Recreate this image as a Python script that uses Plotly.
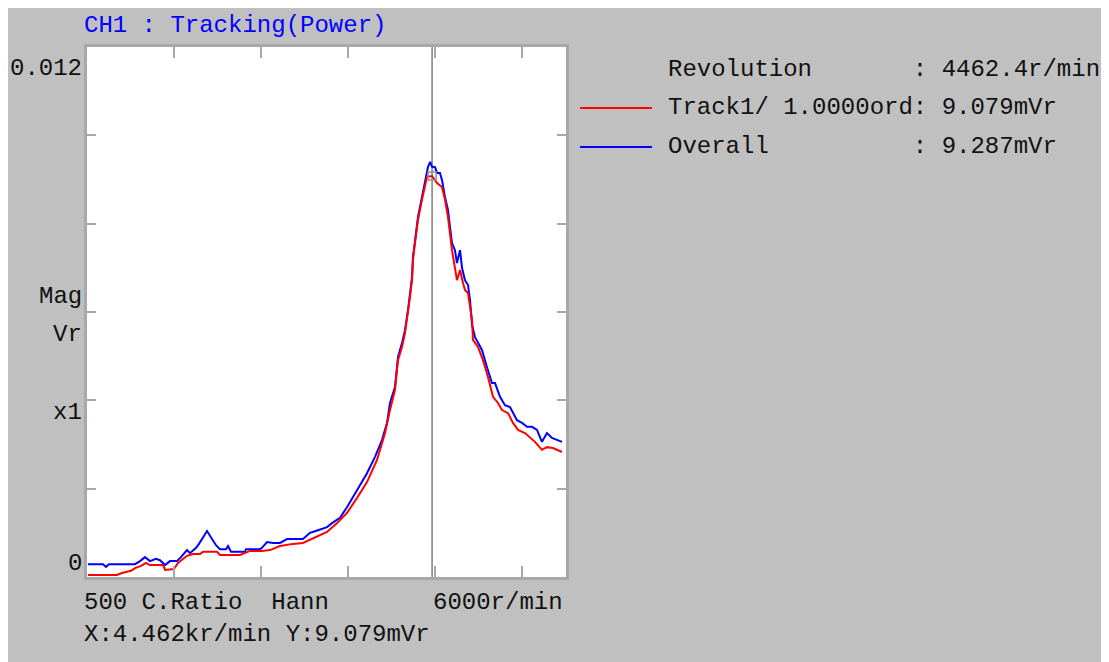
import plotly.graph_objects as go

# ---------------- data ----------------
overall_rpm = [511, 684, 718, 753, 1051, 1109, 1166, 1223, 1292, 1338, 1396, 1453, 1533, 1579,
               1648, 1683, 1752, 1786, 1878, 1981, 2027, 2096, 2119, 2153, 2314, 2326, 2486,
               2509, 2567, 2636, 2716, 2796, 2980, 3060, 3152, 3256, 3313, 3405, 3485, 3600,
               3715, 3807, 3887, 3945, 3979, 4036, 4071, 4117, 4151, 4186, 4209, 4232, 4243,
               4266, 4300, 4346, 4381, 4415, 4440, 4462, 4496, 4519, 4553, 4576, 4611, 4645,
               4668, 4691, 4725, 4748, 4783, 4806, 4840, 4875, 4898, 4921, 4955, 4989, 5035,
               5093, 5150, 5185, 5242, 5299, 5357, 5437, 5495, 5552, 5610, 5667, 5724, 5782,
               5839, 5954]
overall_mv = [0.29, 0.29, 0.23, 0.29, 0.29, 0.36, 0.45, 0.36, 0.41, 0.38, 0.27, 0.36, 0.36, 0.45,
              0.61, 0.54, 0.66, 0.75, 1.04, 0.72, 0.63, 0.63, 0.70, 0.57, 0.57, 0.63, 0.63,
              0.66, 0.79, 0.77, 0.77, 0.86, 0.86, 1.00, 1.06, 1.13, 1.22, 1.34, 1.58, 1.97,
              2.35, 2.72, 3.10, 3.49, 3.94, 4.30, 4.98, 5.30, 5.59, 6.05, 6.43, 6.79, 7.25,
              7.63, 8.15, 8.60, 8.99, 9.28, 9.40, 9.287, 9.28, 9.15, 9.15, 8.99, 8.60, 8.31,
              7.92, 7.56, 7.40, 7.11, 7.40, 7.00, 6.72, 6.61, 6.27, 5.71, 5.43, 5.30, 5.14,
              4.75, 4.39, 4.39, 4.08, 3.89, 3.85, 3.55, 3.49, 3.40, 3.40, 3.33, 3.06, 3.26,
              3.15, 3.06]

track1_rpm = [511, 844, 902, 1005, 1051, 1120, 1177, 1223, 1373, 1396, 1499, 1545, 1648, 1717,
              1797, 1832, 1993, 2027, 2257, 2303, 2372, 2509, 2601, 2716, 2865, 2980, 3095,
              3256, 3371, 3485, 3600, 3715, 3830, 3922, 3979, 4036, 4071, 4117, 4151, 4186,
              4209, 4232, 4243, 4266, 4300, 4346, 4381, 4404, 4462, 4519, 4576, 4611, 4645,
              4691, 4748, 4783, 4817, 4840, 4875, 4921, 4932, 4989, 5047, 5104, 5162, 5219,
              5265, 5334, 5391, 5449, 5529, 5587, 5644, 5724, 5782, 5850, 5954]
track1_mv = [0.045, 0.045, 0.09, 0.14, 0.20, 0.25, 0.32, 0.27, 0.27, 0.16, 0.18, 0.32, 0.48, 0.52,
             0.52, 0.57, 0.57, 0.50, 0.50, 0.54, 0.59, 0.59, 0.61, 0.70, 0.75, 0.77, 0.88,
             1.02, 1.22, 1.45, 1.79, 2.15, 2.65, 3.26, 3.78, 4.23, 4.91, 5.21, 5.52, 5.98,
             6.34, 6.72, 7.18, 7.56, 8.08, 8.54, 8.88, 9.06, 9.079, 8.92, 8.83, 8.54, 8.15,
             7.40, 6.72, 6.95, 6.66, 6.50, 6.43, 5.82, 5.37, 5.21, 4.91, 4.53, 4.08, 3.94,
             3.78, 3.71, 3.49, 3.33, 3.26, 3.17, 3.06, 2.88, 2.94, 2.92, 2.83]

cursor_rpm = 4462.4
cursor_track_mv = 9.079
x_range = [500, 6000]
y_range = [0, 0.012]
x_ticks = [1500, 2500, 3500, 4500, 5500]
y_ticks = [0, 0.002, 0.004, 0.006, 0.008, 0.010, 0.012]

title_text = "CH1 : Tracking(Power)"
info_lines = ["Revolution       : 4462.4r/min",
              "Track1/ 1.0000ord: 9.079mVr",
              "Overall          : 9.287mVr"]
bottom_left = "500 C.Ratio  Hann"
bottom_right = "6000r/min"
readout = "X:4.462kr/min Y:9.079mVr"

# ---------------- layout geometry ----------------
W, H = 1109, 662
OFF = 8  # page margin of the browser; positions below are measured on the screenshot
L, R, T, B = 87 - OFF, 566 - OFF, 47 - OFF, 577 - OFF
PW, PH = R - L, B - T


def px(x):
    return (x - OFF - L) / PW


def py(y):
    return (B - (y - OFF)) / PH


FONT = "Liberation Mono, DejaVu Sans Mono, monospace"
TXT = "#111111"
GRID = "#a8a8a8"

fig = go.Figure()
fig.add_trace(go.Scatter(x=overall_rpm, y=[v / 1000 for v in overall_mv], mode="lines",
                         name="Overall", line=dict(color="#0000ff", width=2)))
fig.add_trace(go.Scatter(x=track1_rpm, y=[v / 1000 for v in track1_mv], mode="lines",
                         name="Track1/ 1.0000ord", line=dict(color="#ff0000", width=2)))
fig.add_trace(go.Scatter(x=[cursor_rpm], y=[cursor_track_mv / 1000], mode="markers",
                         marker=dict(symbol="square-open", size=8, color="#909090",
                                     line=dict(width=1.5)), showlegend=False))

fig.update_layout(
    width=W, height=H,
    margin=dict(l=L, r=W - R, t=T, b=H - B),
    paper_bgcolor="#c0c0c0", plot_bgcolor="#ffffff",
    showlegend=False,
    xaxis=dict(range=x_range, showgrid=False, zeroline=False, tickvals=x_ticks,
               showticklabels=False, ticks="inside", ticklen=11, tickwidth=2,
               tickcolor=GRID, showline=True, linecolor=GRID, linewidth=3, mirror="ticks"),
    yaxis=dict(range=y_range, showgrid=False, zeroline=False, tickvals=y_ticks,
               showticklabels=False, ticks="inside", ticklen=9, tickwidth=2,
               tickcolor=GRID, showline=True, linecolor=GRID, linewidth=3, mirror="ticks"),
)

# cursor line
fig.add_shape(type="line", xref="x", yref="paper", x0=cursor_rpm, x1=cursor_rpm, y0=0, y1=1,
              line=dict(color="#808080", width=1.5), layer="below")

ann = []


def text(s, xpix, ypix, anchor="left", color=TXT, size=24):
    ann.append(dict(text=s.replace(" ", "&nbsp;"), x=px(xpix), y=py(ypix), xref="paper",
                    yref="paper", xanchor=anchor, yanchor="middle", showarrow=False,
                    font=dict(family=FONT, size=size, color=color)))


text(title_text, 82, 26, color="#0000ff")
text("0.012", 84, 68, anchor="right")
text("Mag", 84, 296, anchor="right")
text("Vr", 84, 334, anchor="right")
text("x1", 84, 412, anchor="right")
text("0", 84, 563, anchor="right")
text(bottom_left, 82, 602)
text(bottom_right, 565, 602, anchor="right")
text(readout, 82, 634)
for i, s in enumerate(info_lines):
    text(s, 666, 69 + 39 * i)

fig.update_layout(annotations=ann)

# legend swatches
fig.add_shape(type="line", xref="paper", yref="paper", x0=px(580), x1=px(652),
              y0=py(108), y1=py(108), line=dict(color="#ff0000", width=2))
fig.add_shape(type="line", xref="paper", yref="paper", x0=px(580), x1=px(652),
              y0=py(147), y1=py(147), line=dict(color="#0000ff", width=2))

fig.write_html("out.html")
